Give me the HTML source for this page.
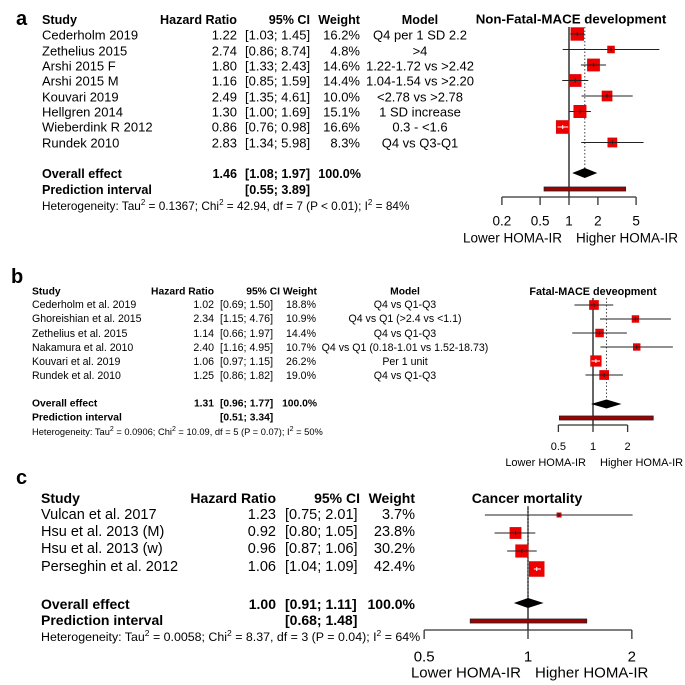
<!DOCTYPE html>
<html><head><meta charset="utf-8"><style>
html,body{margin:0;padding:0;background:#fff;}
svg{display:block;font-family:"Liberation Sans",Arial,sans-serif;}
</style></head><body>
<svg id="fig" width="685" height="685" viewBox="0 0 685 685" xmlns="http://www.w3.org/2000/svg">
<!-- Panel a text -->
<g font-size="13" dominant-baseline="central" fill="#000">
<text x="16" y="19" font-size="20" font-weight="bold">a</text>
<g font-weight="bold" font-size="12.6">
<text x="42" y="20">Study</text><text x="237" y="20" text-anchor="end">Hazard Ratio</text><text x="310" y="20" text-anchor="end">95% CI</text><text x="360" y="20" text-anchor="end">Weight</text><text x="420" y="20" text-anchor="middle">Model</text>
</g>
<g>
<text x="42" y="35">Cederholm 2019</text><text x="237" y="35" text-anchor="end">1.22</text><text x="245" y="35">[1.03; 1.45]</text><text x="360" y="35" text-anchor="end">16.2%</text><text x="420" y="35" text-anchor="middle">Q4 per 1 SD 2.2</text>
<text x="42" y="51">Zethelius 2015</text><text x="237" y="51" text-anchor="end">2.74</text><text x="245" y="51">[0.86; 8.74]</text><text x="360" y="51" text-anchor="end">4.8%</text><text x="420" y="51" text-anchor="middle">&gt;4</text>
<text x="42" y="66">Arshi 2015 F</text><text x="237" y="66" text-anchor="end">1.80</text><text x="245" y="66">[1.33; 2.43]</text><text x="360" y="66" text-anchor="end">14.6%</text><text x="420" y="66" text-anchor="middle">1.22-1.72 vs &gt;2.42</text>
<text x="42" y="81">Arshi 2015 M</text><text x="237" y="81" text-anchor="end">1.16</text><text x="245" y="81">[0.85; 1.59]</text><text x="360" y="81" text-anchor="end">14.4%</text><text x="420" y="81" text-anchor="middle">1.04-1.54 vs &gt;2.20</text>
<text x="42" y="97">Kouvari  2019</text><text x="237" y="97" text-anchor="end">2.49</text><text x="245" y="97">[1.35; 4.61]</text><text x="360" y="97" text-anchor="end">10.0%</text><text x="420" y="97" text-anchor="middle">&lt;2.78 vs &gt;2.78</text>
<text x="42" y="112">Hellgren 2014</text><text x="237" y="112" text-anchor="end">1.30</text><text x="245" y="112">[1.00; 1.69]</text><text x="360" y="112" text-anchor="end">15.1%</text><text x="420" y="112" text-anchor="middle">1 SD increase</text>
<text x="42" y="127">Wieberdink R 2012</text><text x="237" y="127" text-anchor="end">0.86</text><text x="245" y="127">[0.76; 0.98]</text><text x="360" y="127" text-anchor="end">16.6%</text><text x="420" y="127" text-anchor="middle">0.3 - &lt;1.6</text>
<text x="42" y="143">Rundek  2010</text><text x="237" y="143" text-anchor="end">2.83</text><text x="245" y="143">[1.34; 5.98]</text><text x="360" y="143" text-anchor="end">8.3%</text><text x="420" y="143" text-anchor="middle">Q4 vs Q3-Q1</text>
</g>
<g font-weight="bold" font-size="12.6">
<text x="42" y="174">Overall effect</text><text x="237" y="174" text-anchor="end">1.46</text><text x="245" y="174">[1.08; 1.97]</text><text x="361" y="174" text-anchor="end">100.0%</text>
<text x="42" y="190">Prediction interval</text><text x="245" y="190">[0.55; 3.89]</text>
</g>
<text x="42" y="206" font-size="11.8">Heterogeneity: Tau<tspan dy="-4" font-size="8">2</tspan><tspan dy="4"> = 0.1367; Chi</tspan><tspan dy="-4" font-size="8">2</tspan><tspan dy="4"> = 42.94, df = 7 (P &lt; 0.01); I</tspan><tspan dy="-4" font-size="8">2</tspan><tspan dy="4"> = 84%</tspan></text>
<text x="571" y="19" font-weight="bold" text-anchor="middle" font-size="13.3">Non-Fatal-MACE development</text>
</g>

<!-- Panel b text -->
<g font-size="10.6" dominant-baseline="central" fill="#000">
<text x="11" y="277" font-size="20" font-weight="bold">b</text>
<g font-weight="bold" font-size="10.3">
<text x="32" y="292">Study</text><text x="214" y="292" text-anchor="end">Hazard Ratio</text><text x="280" y="292" text-anchor="end">95% CI</text><text x="317" y="292" text-anchor="end">Weight</text><text x="405" y="292" text-anchor="middle">Model</text>
</g>
<g>
<text x="32" y="305">Cederholm et al. 2019</text><text x="214" y="305" text-anchor="end">1.02</text><text x="220" y="305">[0.69; 1.50]</text><text x="316" y="305" text-anchor="end">18.8%</text><text x="405" y="305" text-anchor="middle">Q4 vs Q1-Q3</text>
<text x="32" y="319">Ghoreishian et al. 2015</text><text x="214" y="319" text-anchor="end">2.34</text><text x="220" y="319">[1.15; 4.76]</text><text x="316" y="319" text-anchor="end">10.9%</text><text x="405" y="319" text-anchor="middle">Q4 vs Q1 (&gt;2.4 vs &lt;1.1)</text>
<text x="32" y="334">Zethelius et al. 2015</text><text x="214" y="334" text-anchor="end">1.14</text><text x="220" y="334">[0.66; 1.97]</text><text x="316" y="334" text-anchor="end">14.4%</text><text x="405" y="334" text-anchor="middle">Q4 vs Q1-Q3</text>
<text x="32" y="348">Nakamura et al. 2010</text><text x="214" y="348" text-anchor="end">2.40</text><text x="220" y="348">[1.16; 4.95]</text><text x="316" y="348" text-anchor="end">10.7%</text><text x="405" y="348" text-anchor="middle">Q4 vs Q1 (0.18-1.01 vs 1.52-18.73)</text>
<text x="32" y="362">Kouvari et al. 2019</text><text x="214" y="362" text-anchor="end">1.06</text><text x="220" y="362">[0.97; 1.15]</text><text x="316" y="362" text-anchor="end">26.2%</text><text x="405" y="362" text-anchor="middle">Per 1 unit</text>
<text x="32" y="376">Rundek  et al. 2010</text><text x="214" y="376" text-anchor="end">1.25</text><text x="220" y="376">[0.86; 1.82]</text><text x="316" y="376" text-anchor="end">19.0%</text><text x="405" y="376" text-anchor="middle">Q4 vs Q1-Q3</text>
</g>
<g font-weight="bold" font-size="10.3">
<text x="32" y="404">Overall effect</text><text x="214" y="404" text-anchor="end">1.31</text><text x="220" y="404">[0.96; 1.77]</text><text x="317" y="404" text-anchor="end">100.0%</text>
<text x="32" y="418">Prediction interval</text><text x="220" y="418">[0.51; 3.34]</text>
</g>
<text x="32" y="432" font-size="9.3">Heterogeneity: Tau<tspan dy="-3" font-size="7">2</tspan><tspan dy="3"> = 0.0906; Chi</tspan><tspan dy="-3" font-size="7">2</tspan><tspan dy="3"> = 10.09, df = 5 (P = 0.07); I</tspan><tspan dy="-3" font-size="7">2</tspan><tspan dy="3"> = 50%</tspan></text>
<text x="593" y="292" font-weight="bold" font-size="10.8" text-anchor="middle">Fatal-MACE deveopment</text>
</g>

<!-- Panel c text -->
<g font-size="14.5" dominant-baseline="central" fill="#000">
<text x="16" y="478" font-size="20" font-weight="bold">c</text>
<g font-weight="bold" font-size="14">
<text x="41" y="498">Study</text><text x="276" y="498" text-anchor="end">Hazard Ratio</text><text x="360" y="498" text-anchor="end">95% CI</text><text x="415" y="498" text-anchor="end">Weight</text>
</g>
<g>
<text x="41" y="515">Vulcan et al. 2017</text><text x="276" y="515" text-anchor="end">1.23</text><text x="285" y="515">[0.75; 2.01]</text><text x="415" y="515" text-anchor="end">3.7%</text>
<text x="41" y="532">Hsu et al. 2013 (M)</text><text x="276" y="532" text-anchor="end">0.92</text><text x="285" y="532">[0.80; 1.05]</text><text x="415" y="532" text-anchor="end">23.8%</text>
<text x="41" y="549">Hsu et al. 2013 (w)</text><text x="276" y="549" text-anchor="end">0.96</text><text x="285" y="549">[0.87; 1.06]</text><text x="415" y="549" text-anchor="end">30.2%</text>
<text x="41" y="567">Perseghin et al. 2012</text><text x="276" y="567" text-anchor="end">1.06</text><text x="285" y="567">[1.04; 1.09]</text><text x="415" y="567" text-anchor="end">42.4%</text>
</g>
<g font-weight="bold" font-size="14">
<text x="41" y="604">Overall effect</text><text x="276" y="604" text-anchor="end">1.00</text><text x="285" y="604">[0.91; 1.11]</text><text x="415" y="604" text-anchor="end">100.0%</text>
<text x="41" y="620">Prediction interval</text><text x="285" y="620">[0.68; 1.48]</text>
</g>
<text x="41" y="637" font-size="12.4">Heterogeneity: Tau<tspan dy="-4" font-size="8.5">2</tspan><tspan dy="4"> = 0.0058; Chi</tspan><tspan dy="-4" font-size="8.5">2</tspan><tspan dy="4"> = 8.37, df = 3 (P = 0.04); I</tspan><tspan dy="-4" font-size="8.5">2</tspan><tspan dy="4"> = 64%</tspan></text>
<text x="527" y="498" font-weight="bold" font-size="14" text-anchor="middle">Cancer mortality</text>
</g>
<g id="marks"></g>
</svg>
<script>
// Panel a data
const aEst = [1.22, 2.74, 1.80, 1.16, 2.49, 1.30, 0.86, 2.83];
const aLo = [1.03, 0.86, 1.33, 0.85, 1.35, 1.00, 0.76, 1.34];
const aHi = [1.45, 8.74, 2.43, 1.59, 4.61, 1.69, 0.98, 5.98];
const aWeight = [16.2, 4.8, 14.6, 14.4, 10.0, 15.1, 16.6, 8.3];
const aOverall = [1.46, 1.08, 1.97];
const aPred = [0.55, 3.89];
const aTicks = [0.2, 0.5, 1, 2, 5];
const aTickLabels = ["0.2", "0.5", "1", "2", "5"];
// Panel b data
const bEst = [1.02, 2.34, 1.14, 2.40, 1.06, 1.25];
const bLo = [0.69, 1.15, 0.66, 1.16, 0.97, 0.86];
const bHi = [1.50, 4.76, 1.97, 4.95, 1.15, 1.82];
const bWeight = [18.8, 10.9, 14.4, 10.7, 26.2, 19.0];
const bOverall = [1.31, 0.96, 1.77];
const bPred = [0.51, 3.34];
const bTicks = [0.5, 1, 2];
const bTickLabels = ["0.5", "1", "2"];
// Panel c data
const cEst = [1.23, 0.92, 0.96, 1.06];
const cLo = [0.75, 0.80, 0.87, 1.04];
const cHi = [2.01, 1.05, 1.06, 1.09];
const cWeight = [3.7, 23.8, 30.2, 42.4];
const cOverall = [1.00, 0.91, 1.11];
const cPred = [0.68, 1.48];
const cTicks = [0.5, 1, 2];
const cTickLabels = ["0.5", "1", "2"];

const NS = "http://www.w3.org/2000/svg";
const root = document.getElementById("marks");
function mk(tag, attrs, parent) {
  const e = document.createElementNS(NS, tag);
  for (const k in attrs) e.setAttribute(k, attrs[k]);
  (parent || root).appendChild(e);
  return e;
}
function panel(p, est, lo, hi, wt, overall, pred, ticks, tickLabels, cfg) {
  const g = mk("g", {});
  
  
  const X = v => cfg.x1 + cfg.dec * Math.log10(v);
  const Y = i => cfg.y0 + i * cfg.dy;
  const ref = mk("line", {x1: X(1), x2: X(1), y1: cfg.top, y2: cfg.axisY, stroke: "#000", "stroke-width": 1.2}, g);
  
  
  const dl = mk("line", {x1: X(overall[0]), x2: X(overall[0]), y1: cfg.top, y2: cfg.dy0 + 3, stroke: "#444", "stroke-width": 1, "stroke-dasharray": "1.5,2"}, g);
  
  
  for (let i = 0; i < est.length; i++) {
    const y = Y(i), s = cfg.k * Math.sqrt(wt[i]);
    const ci = mk("line", {x1: X(lo[i]), x2: X(hi[i]), y1: y, y2: y, stroke: "#222", "stroke-width": 1}, g);
    
    
    const sq = mk("rect", {x: X(est[i]) - s / 2, y: y - s / 2, width: s, height: s, fill: "#ee0000", stroke: "#d00000", "stroke-width": 0.5}, g);
    
    
    const inside = X(lo[i]) > X(est[i]) - s / 2 && X(hi[i]) < X(est[i]) + s / 2;
    const col = inside ? "#fff" : "#222";
    const l2 = mk("line", {x1: Math.max(X(lo[i]), X(est[i]) - s / 2), x2: Math.min(X(hi[i]), X(est[i]) + s / 2), y1: y, y2: y, stroke: col, "stroke-width": 1}, g);
    
    
    const t = mk("line", {x1: X(est[i]), x2: X(est[i]), y1: y - 2, y2: y + 2, stroke: col, "stroke-width": 1}, g);
    
    
  }
  const h = cfg.dh;
  const dia = mk("polygon", {points: `${X(overall[1])},${cfg.dy0} ${X(overall[0])},${cfg.dy0 - h} ${X(overall[2])},${cfg.dy0} ${X(overall[0])},${cfg.dy0 + h}`, fill: "#000"}, g);
  
  
  const pr = mk("rect", {x: X(pred[0]), y: cfg.py - 2, width: X(pred[1]) - X(pred[0]), height: 4, fill: "#a00000", stroke: "#222", "stroke-width": 0.8}, g);
  
  
  const ax = mk("line", {x1: X(ticks[0]), x2: X(ticks[ticks.length - 1]), y1: cfg.axisY, y2: cfg.axisY, stroke: "#333", "stroke-width": 1.3}, g);
  
  
  for (let i = 0; i < ticks.length; i++) {
    const tk = mk("line", {x1: X(ticks[i]), x2: X(ticks[i]), y1: cfg.axisY, y2: cfg.axisY + cfg.tl, stroke: "#333", "stroke-width": 1.3}, g);
    
    
    const tx = mk("text", {x: X(ticks[i]), y: cfg.labY, "text-anchor": "middle", "dominant-baseline": "central", "font-size": cfg.fs}, g);
    tx.textContent = tickLabels[i];
    
    
  }
  const lw = mk("text", {x: X(1) - cfg.gap, y: cfg.lhY, "text-anchor": "end", "dominant-baseline": "central", "font-size": cfg.fs}, g);
  lw.textContent = "Lower HOMA-IR";
  
  
  const hi2 = mk("text", {x: X(1) + cfg.gap, y: cfg.lhY, "text-anchor": "start", "dominant-baseline": "central", "font-size": cfg.fs}, g);
  hi2.textContent = "Higher HOMA-IR";
  
  
}
panel("a", aEst, aLo, aHi, aWeight, aOverall, aPred, aTicks, aTickLabels,
  {x1: 569, dec: 96, y0: 34, dy: 15.5, top: 27, axisY: 197, dy0: 173, dh: 5, py: 189, k: 3.2, tl: 8, labY: 221, lhY: 238, fs: 13.5, gap: 7});
panel("b", bEst, bLo, bHi, bWeight, bOverall, bPred, bTicks, bTickLabels,
  {x1: 593, dec: 115, y0: 305, dy: 14, top: 298, axisY: 425, dy0: 404, dh: 4.5, py: 418, k: 2.1, tl: 7, labY: 447, lhY: 463, fs: 11, gap: 7});
panel("c", cEst, cLo, cHi, cWeight, cOverall, cPred, cTicks, cTickLabels,
  {x1: 528, dec: 345, y0: 515, dy: 18, top: 506, axisY: 630, dy0: 603, dh: 5, py: 621, k: 2.3, tl: 9, labY: 657, lhY: 673, fs: 15, gap: 7});
</script>
</body></html>
